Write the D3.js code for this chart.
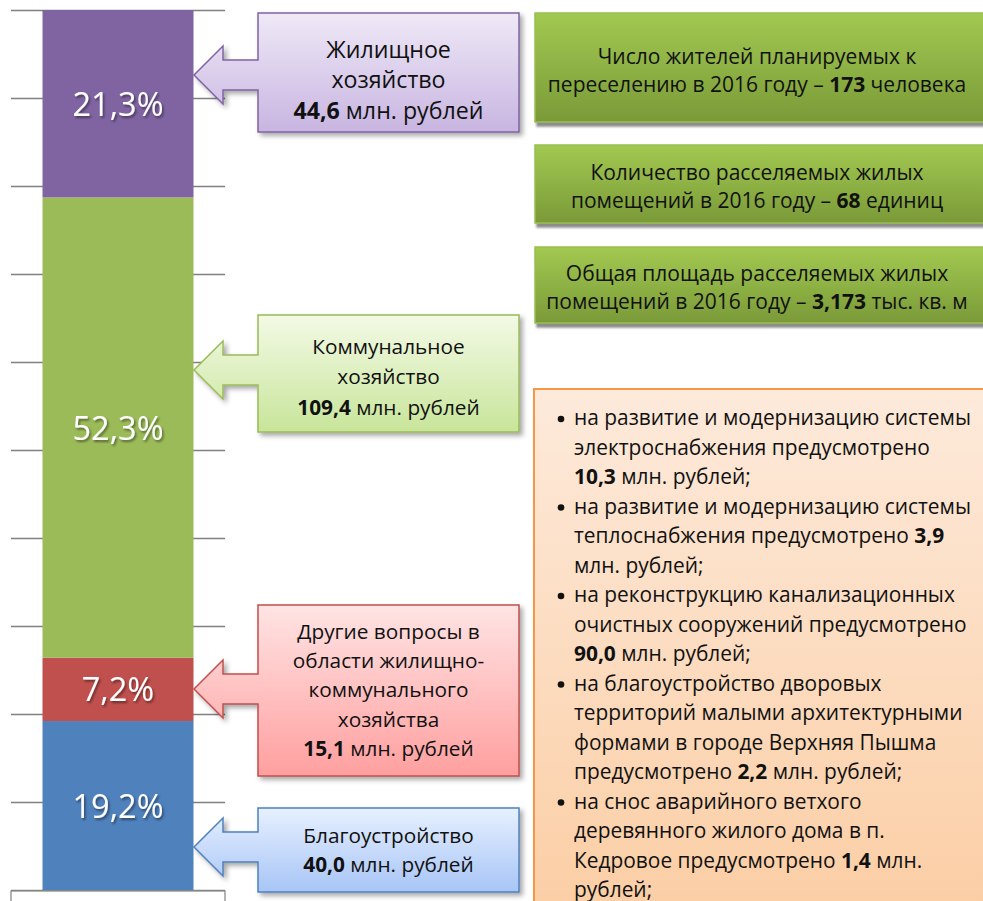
<!DOCTYPE html>
<html>
<head>
<meta charset="utf-8">
<script src="https://cdn.jsdelivr.net/npm/d3@7"></script>
<style>
  body { margin: 0; background: #fff; }
  svg { display: block; font-family: "Open Sans", sans-serif; }
</style>
</head>
<body>
<div id="chart"></div>
<script>
// sections of the stacked bar, bottom to top
var categories = ["Благоустройство", "Другие вопросы", "Коммунальное хозяйство", "Жилищное хозяйство"];
var shares = [19.2, 7.2, 52.3, 21.3];
var amounts = [40.0, 15.1, 109.4, 44.6];
var calloutText = [
    ["Благоустройство"],
    ["Другие вопросы в", "области жилищно-", "коммунального", "хозяйства"],
    ["Коммунальное", "хозяйство"],
    ["Жилищное", "хозяйство"]
];
var yTicks = [0, 10, 20, 30, 40, 50, 60, 70, 80, 90, 100];

// info boxes on the right
var statLines = [
    ["Число жителей планируемых к", "переселению в 2016 году – # человека"],
    ["Количество расселяемых жилых", "помещений в 2016 году – # единиц"],
    ["Общая площадь расселяемых жилых", "помещений в 2016 году – # тыс. кв. м"]
];
var statValues = [173, 68, 3.173];
var statFormats = ["d", "d", ".3f"];

var bulletLines = [
    ["на развитие и модернизацию системы", "электроснабжения предусмотрено", "# млн. рублей;"],
    ["на развитие и модернизацию системы", "теплоснабжения предусмотрено #", "млн. рублей;"],
    ["на реконструкцию канализационных", "очистных сооружений предусмотрено", "# млн. рублей;"],
    ["на благоустройство дворовых", "территорий малыми архитектурными", "формами в городе Верхняя Пышма", "предусмотрено # млн. рублей;"],
    ["на снос аварийного ветхого", "деревянного жилого дома в п.", "Кедровое предусмотрено # млн.", "рублей;"]
];
var bulletAmounts = [10.3, 3.9, 90.0, 2.2, 1.4];

(function() {
    var width = 983,
        height = 901;

    var colors = ["#4f81bd", "#c0504d", "#9bbb59", "#8064a2"];
    var lightTop = ["#e7f0ff", "#ffe4e4", "#f3fae6", "#efe9f7"];
    var lightBottom = ["#a7c5f6", "#ff9f9f", "#c8e59a", "#c8b5e1"];

    // callout boxes, same order as categories
    var callouts = [
        {y0: 808, y1: 892, tip: 847, ty: 850, fs: 20.8, lh: 29.5},
        {y0: 605, y1: 776, tip: 689, ty: 690, fs: 20.8, lh: 29.3},
        {y0: 315, y1: 432, tip: 370, ty: 377, fs: 20.8, lh: 30.5},
        {y0: 13, y1: 132, tip: 75, ty: 80, fs: 23.2, lh: 30.5}
    ];
    var statBoxes = [{y0: 13, y1: 122}, {y0: 145, y1: 223}, {y0: 247, y1: 323}];

    var ru = d3.formatLocale({decimal: ",", thousands: " ", grouping: [3], currency: ["", " руб."]});

    var svg = d3.select("#chart")
        .append("svg")
        .attr("width", width)
        .attr("height", height);

    var defs = svg.append("defs");

    defs.append("filter").attr("id", "soft")
        .attr("x", "-10%").attr("y", "-10%").attr("width", "130%").attr("height", "140%")
        .append("feDropShadow")
        .attr("dx", 3).attr("dy", 3).attr("stdDeviation", 2.5)
        .attr("flood-color", "#000").attr("flood-opacity", 0.35);

    defs.append("filter").attr("id", "hard")
        .attr("x", "-5%").attr("y", "-10%").attr("width", "115%").attr("height", "140%")
        .append("feDropShadow")
        .attr("dx", 2).attr("dy", 4).attr("stdDeviation", 0.8)
        .attr("flood-color", "#7f7f7f").attr("flood-opacity", 0.9);

    defs.append("filter").attr("id", "txt")
        .append("feDropShadow")
        .attr("dx", 1.5).attr("dy", 2).attr("stdDeviation", 1)
        .attr("flood-color", "#000").attr("flood-opacity", 0.45);

    function grad(id, c0, c1) {
        var g = defs.append("linearGradient").attr("id", id)
            .attr("x1", 0).attr("y1", 0).attr("x2", 0).attr("y2", 1);
        g.append("stop").attr("offset", "0%").attr("stop-color", c0);
        g.append("stop").attr("offset", "100%").attr("stop-color", c1);
    }
    colors.forEach(function(c, i) { grad("call" + i, lightTop[i], lightBottom[i]); });
    grad("statGrad", "#a2c951", "#7a9a38");
    grad("orangeGrad", "#fdeadb", "#fbcca1");

    // scales
    var y = d3.scaleLinear().domain([0, 100]).range([890, 10]);
    var x = d3.scaleBand().domain(["2016"]).range([11, 225]).padding(0.1726);

    // gridlines
    var grid = svg.append("g")
        .attr("transform", "translate(11,0)")
        .call(d3.axisRight(y).tickValues(yTicks).tickSize(214).tickFormat(""));
    grid.select(".domain").remove();
    grid.selectAll(".tick line").attr("stroke", "#808080").attr("stroke-width", 1.3);

    // stacked bar
    var row = {key: "2016"};
    categories.forEach(function(c, i) { row[c] = shares[i]; });
    var series = d3.stack().keys(categories)([row]);

    svg.append("g").selectAll("rect")
        .data(series)
        .enter().append("rect")
        .attr("x", x("2016"))
        .attr("width", x.bandwidth())
        .attr("y", function(d) { return y(d[0][1]); })
        .attr("height", function(d) { return y(d[0][0]) - y(d[0][1]); })
        .attr("fill", function(d, i) { return colors[i]; });

    svg.append("g").selectAll("text")
        .data(series)
        .enter().append("text")
        .attr("x", x("2016") + x.bandwidth() / 2)
        .attr("y", function(d) { return (y(d[0][0]) + y(d[0][1])) / 2 + 12; })
        .attr("text-anchor", "middle")
        .attr("fill", "#fff")
        .attr("font-size", 32.5)
        .attr("filter", "url(#txt)")
        .text(function(d, i) { return ru.format(".1%")(shares[i] / 100); });

    // category box under the bar
    svg.append("rect")
        .attr("x", 11).attr("y", 891).attr("width", 214).attr("height", 40)
        .attr("fill", "#fff").attr("stroke", "#8a8a8a").attr("stroke-width", 1.3);

    // writes a line, "#" is swapped for a bold value
    function addLine(sel, str, val) {
        var parts = str.split("#");
        sel.append("tspan").text(parts[0]);
        if (parts.length > 1) {
            sel.append("tspan").attr("font-weight", "bold").text(val);
            sel.append("tspan").text(parts[1]);
        }
    }

    // arrow callouts
    var bx0 = 258, bx1 = 519, tipX = 194, headX = 223;
    callouts.forEach(function(c, i) {
        var m = c.tip;
        var p = "M" + bx0 + "," + c.y0 + "H" + bx1 + "V" + c.y1 + "H" + bx0 +
            "V" + (m + 15) + "H" + headX + "V" + (m + 29) + "L" + tipX + "," + m +
            "L" + headX + "," + (m - 29) + "V" + (m - 15) + "H" + bx0 + "Z";
        svg.append("path")
            .attr("d", p)
            .attr("fill", "url(#call" + i + ")")
            .attr("stroke", colors[i])
            .attr("stroke-width", 1.5)
            .attr("filter", "url(#soft)");

        var lines = calloutText[i].concat(["# млн. рублей"]);
        lines.forEach(function(l, j) {
            var t = svg.append("text")
                .attr("x", (bx0 + bx1) / 2)
                .attr("y", c.ty + (j - (lines.length - 1) / 2) * c.lh + c.fs * 0.36)
                .attr("text-anchor", "middle")
                .attr("font-size", c.fs)
                .attr("fill", "#111");
            addLine(t, l, ru.format(".1f")(amounts[i]));
        });
    });

    // green info boxes
    statBoxes.forEach(function(b, i) {
        svg.append("rect")
            .attr("x", 535).attr("y", b.y0)
            .attr("width", 460).attr("height", b.y1 - b.y0)
            .attr("fill", "url(#statGrad)")
            .attr("stroke", "#98bf4f").attr("stroke-width", 1.5)
            .attr("filter", "url(#hard)");
        var cy = (b.y0 + b.y1) / 2;
        statLines[i].forEach(function(l, j) {
            var t = svg.append("text")
                .attr("x", 757)
                .attr("y", cy + (j - 0.5) * 28 + 10)
                .attr("text-anchor", "middle")
                .attr("font-size", 21)
                .attr("fill", "#111");
            addLine(t, l, ru.format(statFormats[i])(statValues[i]));
        });
    });

    // orange list box
    svg.append("rect")
        .attr("x", 534).attr("y", 389)
        .attr("width", 460).attr("height", 560)
        .attr("fill", "url(#orangeGrad)")
        .attr("stroke", "#f79646").attr("stroke-width", 2);

    var lh2 = 29.5, yy = 425;
    bulletLines.forEach(function(lines, i) {
        svg.append("circle")
            .attr("cx", 561).attr("cy", yy - 6).attr("r", 3.3)
            .attr("fill", "#111");
        lines.forEach(function(l) {
            var t = svg.append("text")
                .attr("x", 574).attr("y", yy)
                .attr("font-size", 20.9)
                .attr("fill", "#111");
            addLine(t, l, ru.format(".1f")(bulletAmounts[i]));
            yy += lh2;
        });
    });
})();
</script>
</body>
</html>
